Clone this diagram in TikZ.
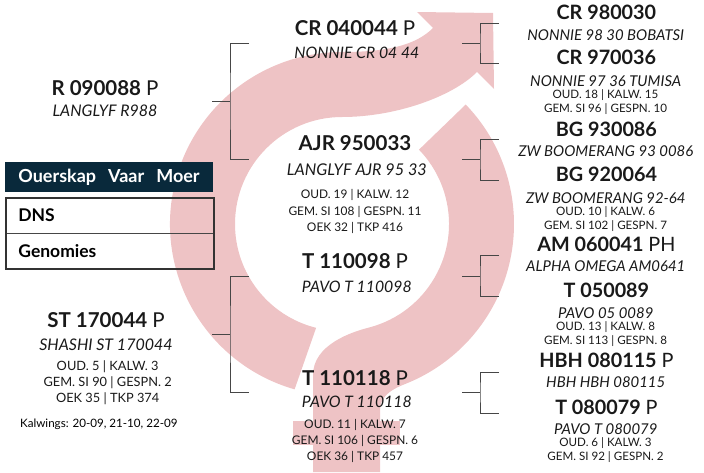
\documentclass[tikz,border=0pt]{standalone}
\usepackage{fontspec}
\setmainfont{Lato}
\usetikzlibrary{calc,positioning}
\definecolor{rooskleur}{RGB}{238,195,197}
\definecolor{nagblou}{RGB}{9,41,59}
\definecolor{lyngrys}{RGB}{70,70,70}
\newcommand{\kop}[1][20.5]{\bfseries\fontsize{#1}{0}\selectfont}
\newcommand{\bynaam}[1][16]{\itshape\fontsize{#1}{0}\selectfont}
\newcommand{\syfer}[1][11.9]{\fontsize{#1}{0}\selectfont}
\newcommand{\reg}{\mdseries}
\tikzset{
  dier/.style={
    align=center,
    inner sep=0pt,
    anchor=north,
    text=black!90,
    font={\fontsize{12}{0}\selectfont\lineskiplimit=-100pt}
  },
  tak/.style={
    draw=lyngrys,
    line width=0.9pt
  },
  kopstrook/.style={
    fill=nagblou,
    text=white,
    minimum width=208pt,
    minimum height=30pt,
    inner sep=0pt,
    font=\bfseries\fontsize{18}{20}\selectfont
  },
  vak/.style={
    draw=lyngrys,
    line width=0.8pt,
    minimum height=34.5pt,
    text width=183pt,
    inner xsep=12pt,
    inner ysep=0pt,
    align=left,
    font=\bfseries\fontsize{17.5}{19}\selectfont
  }
}

\begin{document}
\begin{tikzpicture}[x=1pt,y=-1pt]
\useasboundingbox (0,0) rectangle (704,472);
\coordinate (C) at (342,224);
% agtergrond simbool
\fill[rooskleur] ($(C)+(106:172)$) arc[start angle=106, end angle=270, radius=172]
  .. controls +(43,0) and (415,46) .. (433,28) -- (417,12) -- (493,13) -- (494,89) -- (477,72)
  .. controls (452,97) and (395,117) .. ($(C)+(270:107)$)
  arc[start angle=270, end angle=104, radius=107] -- cycle;
\fill[rooskleur] ($(C)+(-44:107)$) -- ($(C)+(-44:172)$) arc[start angle=-44, end angle=68, radius=172]
  .. controls (387,391) and (380,398) .. (380,412) -- (380,472) -- (313,472) -- (313,375)
  .. controls (313,345) and (351,332) .. ($(C)+(75:107)$)
  arc[start angle=75, end angle=-44, radius=107] -- cycle;
\fill[rooskleur] (293,421) rectangle (400,445);

% takke
\foreach \k/\x/\ym/\yt/\yb in {a/230/101/43/159, b/230/334/276/392, c/480/43/23/63,
    d/480/159/139/180, e/480/276/255/296, f/480/392/372/413}{
  \coordinate (tak-\k) at (\x,\ym);
  \coordinate (tak-\k-bo) at (\x+19,\yt);
  \coordinate (tak-\k-onder) at (\x+19,\yb);
  \draw[tak] ([xshift=-18pt]tak-\k) -- (tak-\k) (tak-\k-bo) -| (tak-\k) |- (tak-\k-onder);
}

% ouers
\node[dier] (r090088) at (105,80) {{\kop R 090088 {\reg P}}\\[21pt]{\bynaam LANGLYF R988}};
\node[dier] (st170044) at (106,312) {{\kop ST 170044 {\reg P}}\\[23pt]{\bynaam SHASHI ST 170044}\\[20pt]{\syfer[12.8] OUD. 5 | KALW. 3}\\[16pt]{\syfer[12.8] GEM. SI 90 | GESPN. 2}\\[16pt]{\syfer[12.8] OEK 35 | TKP 374}};
\node[anchor=base west, inner sep=0pt, font=\fontsize{11.6}{14}\selectfont] (kalwings) at (20,427) {Kalwings: 20-09, 21-10, 22-09};

% middel
\node[dier] (cr040044) at (355,20) {{\kop CR 040044 {\reg P}}\\[23pt]{\bynaam[15.8] NONNIE CR 04 44}};
\node[dier] (ajr950033) at (355,135) {{\kop AJR 950033}\\[25pt]{\bynaam[16.2] LANGLYF AJR 95 33}\\[23pt]{\syfer OUD. 19 | KALW. 12}\\[17pt]{\syfer GEM. SI 108 | GESPN. 11}\\[16pt]{\syfer OEK 32 | TKP 416}};
\node[dier] (t110098) at (355,253) {{\kop T 110098 {\reg P}}\\[24pt]{\bynaam[15.8] PAVO T 110098}};
\node[dier] (t110118) at (355,370) {{\kop T 110118 {\reg P}}\\[22pt]{\bynaam[15.8] PAVO T 110118}\\[21pt]{\syfer OUD. 11 | KALW. 7}\\[16pt]{\syfer GEM. SI 106 | GESPN. 6}\\[16pt]{\syfer OEK 36 | TKP 457}};

% grootouers
\node[dier] (cr980030) at (604,5) {{\kop[19.8] CR 980030}\\[21pt]{\bynaam[14.9] NONNIE 98 30 BOBATSI}};
\node[dier] (cr970036) at (604,50) {{\kop[19.8] CR 970036}\\[22pt]{\bynaam[14.9] NONNIE 97 36 TUMISA}\\[12pt]{\syfer[11.6] OUD. 18 | KALW. 15}\\[14pt]{\syfer[11.6] GEM. SI 96 | GESPN. 10}};
\node[dier] (bg930086) at (604,122) {{\kop[19.8] BG 930086}\\[20pt]{\bynaam[14.9] ZW BOOMERANG 93 0086}};
\node[dier] (bg920064) at (604,167) {{\kop[19.8] BG 920064}\\[22pt]{\bynaam[14.9] ZW BOOMERANG 92-64}\\[12pt]{\syfer[11.6] OUD. 10 | KALW. 6}\\[14pt]{\syfer[11.6] GEM. SI 102 | GESPN. 7}};
\node[dier] (am060041) at (604,237) {{\kop[19.8] AM 060041 {\reg PH}}\\[20pt]{\bynaam[14.9] ALPHA OMEGA AM0641}};
\node[dier] (t050089) at (604,283) {{\kop[19.8] T 050089}\\[21pt]{\bynaam[14.9] PAVO 05 0089}\\[12pt]{\syfer[11.6] OUD. 13 | KALW. 8}\\[14pt]{\syfer[11.6] GEM. SI 113 | GESPN. 8}};
\node[dier] (hbh080115) at (604,353) {{\kop[19.8] HBH 080115 {\reg P}}\\[20pt]{\bynaam[14.9] HBH HBH 080115}};
\node[dier] (t080079) at (604,400) {{\kop[19.8] T 080079 {\reg P}}\\[20pt]{\bynaam[14.9] PAVO T 080079}\\[12pt]{\syfer[11.6] OUD. 6 | KALW. 3}\\[14pt]{\syfer[11.6] GEM. SI 92 | GESPN. 2}};

% legende
\node[kopstrook] (ouerskap) at (109,177) {Ouerskap\hspace{12pt}Vaar\hspace{12pt}Moer};
\node[vak, anchor=north west] (dns) at (6,198) {DNS};
\node[vak, below=0pt of dns] (genomies) {Genomies};
\draw[line width=2.2pt, draw=black!80] (dns.north west) rectangle (genomies.south east);
\end{tikzpicture}
\end{document}
